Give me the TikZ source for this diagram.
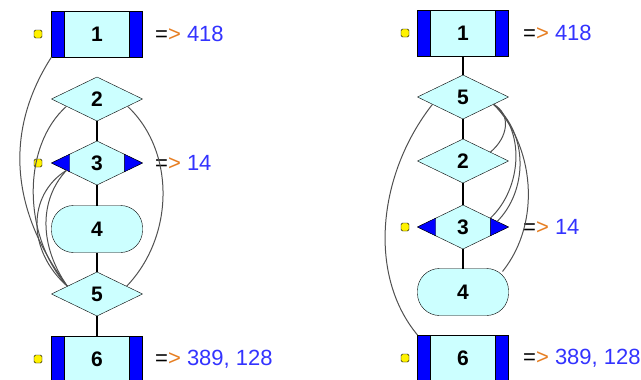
\documentclass[tikz,border=0pt]{standalone}
\usepackage{fontspec}
\setmainfont{Liberation Sans}
\usetikzlibrary{shapes.geometric,calc}
\definecolor{nodefill}{RGB}{204,255,255}
\definecolor{barblue}{RGB}{0,0,255}
\definecolor{arrowcolor}{RGB}{230,126,34}
\definecolor{valuecolor}{RGB}{51,51,255}
\definecolor{linkgray}{RGB}{80,80,80}

\tikzset{
  blockbox/.style={rectangle,draw=black,fill=nodefill,minimum width=91pt,minimum height=46pt,
    inner sep=0pt,outer sep=0pt,font=\fontsize{21}{22}\selectfont\bfseries,
    path picture={
      \filldraw[fill=barblue,draw=black] (path picture bounding box.north west) rectangle ([xshift=13pt]path picture bounding box.south west);
      \filldraw[fill=barblue,draw=black] (path picture bounding box.north east) rectangle ([xshift=-13pt]path picture bounding box.south east);}},
  choice/.style={diamond,draw=black,fill=nodefill,minimum width=91pt,minimum height=44pt,
    inner sep=0pt,outer sep=0pt,font=\fontsize{21}{22}\selectfont\bfseries},
  roundbox/.style={rectangle,rounded corners=22pt,draw=black,fill=nodefill,minimum width=91pt,
    minimum height=47pt,inner sep=0pt,outer sep=0pt,font=\fontsize{21}{22}\selectfont\bfseries},
  marker/.style={rectangle,draw=black,fill=yellow,minimum size=8pt,inner sep=0pt,rounded corners=1.5pt},
  result/.style={anchor=west,font=\fontsize{22}{24}\selectfont,inner sep=0pt},
  link/.style={draw=black,line width=1.2pt},
  arc/.style={draw=linkgray,line width=1pt}
}
\newcommand{\yields}[1]{=\textcolor{arrowcolor}{>}~\textcolor{valuecolor}{#1}}

\begin{document}
\begin{tikzpicture}[x=1pt,y=-1pt]
  \useasboundingbox (0,0) rectangle (641,380);

  % left chart
  \node[blockbox] (a1) at (97,34) {1};
  \node[choice] (a2) at (97,99) {2};
  \node[choice] (a3) at (97,163) {3};
  \node[roundbox] (a4) at (97,229) {4};
  \node[choice] (a5) at (97,294) {5};
  \node[blockbox] (a6) at (97,359) {6};
  \foreach \s in {a3}{
    \filldraw[fill=barblue,draw=black] (\s.west) -- ($(\s.west)!0.4!(\s.north)$) -- ($(\s.west)!0.4!(\s.south)$) -- cycle;
    \filldraw[fill=barblue,draw=black] (\s.east) -- ($(\s.east)!0.4!(\s.north)$) -- ($(\s.east)!0.4!(\s.south)$) -- cycle;
  }
  \node[marker] (ma1) at (38,34) {};
  \node[marker] (ma3) at (38,163) {};
  \node[marker] (ma6) at (38,359) {};
  \node[result] (ra1) at (155,34) {\yields{418}};
  \node[result] (ra3) at (155,163) {\yields{14}};
  \node[result] (ra6) at (155,359) {\yields{389, 128}};
  \draw[link] (a2) -- (a3);
  \draw[link] (a3) -- (a4);
  \draw[link] (a4) -- (a5);
  \draw[link] (a5) -- (a6);
  % loops back to 5
  \coordinate (pa2l) at ($(a2.west)!0.33!(a2.south)$);
  \coordinate (pa2r) at ($(a2.east)!0.33!(a2.south)$);
  \coordinate (pa3l) at ($(a3.west)!0.33!(a3.south)$);
  \coordinate (pa5l) at ($(a5.west)!0.35!(a5.north)$);
  \coordinate (pa5r) at ($(a5.east)!0.35!(a5.north)$);
  \draw[arc] (a1.south west) .. controls +(-45,70) and +(-60,-80) .. (pa5l);
  \draw[arc] (pa2l) .. controls +(-45,40) and +(-45,-50) .. (pa5l);
  \draw[arc] (pa3l) .. controls +(-40,25) and +(-40,-35) .. (pa5l);
  \draw[arc] (pa3l) .. controls +(-28,30) and +(-28,-40) .. (pa5l);
  \draw[arc] (pa2r) .. controls +(48,45) and +(48,-50) .. (pa5r);

  % right chart
  \node[blockbox] (b1) at (463,33) {1};
  \node[choice] (b5) at (463,97) {5};
  \node[choice] (b2) at (463,161) {2};
  \node[choice] (b3) at (463,227) {3};
  \node[roundbox] (b4) at (463,292) {4};
  \node[blockbox] (b6) at (463,358) {6};
  \foreach \s in {b3}{
    \filldraw[fill=barblue,draw=black] (\s.west) -- ($(\s.west)!0.4!(\s.north)$) -- ($(\s.west)!0.4!(\s.south)$) -- cycle;
    \filldraw[fill=barblue,draw=black] (\s.east) -- ($(\s.east)!0.4!(\s.north)$) -- ($(\s.east)!0.4!(\s.south)$) -- cycle;
  }
  \node[marker] (mb1) at (405,33) {};
  \node[marker] (mb3) at (405,227) {};
  \node[marker] (mb6) at (405,358) {};
  \node[result] (rb1) at (523,33) {\yields{418}};
  \node[result] (rb3) at (523,227) {\yields{14}};
  \node[result] (rb6) at (523,358) {\yields{389, 128}};
  \draw[link] (b1) -- (b5);
  \draw[link] (b5) -- (b2);
  \draw[link] (b2) -- (b3);
  \draw[link] (b3) -- (b4);
  % loops out of 5
  \coordinate (pb5l) at ($(b5.west)!0.33!(b5.south)$);
  \coordinate (pb5r) at ($(b5.east)!0.33!(b5.south)$);
  \coordinate (pb2r) at ($(b2.east)!0.4!(b2.north)$);
  \coordinate (pb3r) at ($(b3.east)!0.4!(b3.north)$);
  \coordinate (pb3t) at ($(b3.east)!0.25!(b3.north)$);
  \coordinate (pb4r) at ($(b4.north east)+(-6,3)$);
  \draw[arc] (b6.north west) .. controls +(-50,-60) and +(-55,70) .. (pb5l);
  \draw[arc] (pb5r) .. controls +(18,10) and +(18,-15) .. (pb2r);
  \draw[arc] (pb5r) .. controls +(32,25) and +(32,-30) .. (pb3r);
  \draw[arc] (pb5r) .. controls +(36,30) and +(30,-30) .. (pb3t);
  \draw[arc] (pb5r) .. controls +(40,40) and +(40,-50) .. (pb4r);
\end{tikzpicture}
\end{document}
